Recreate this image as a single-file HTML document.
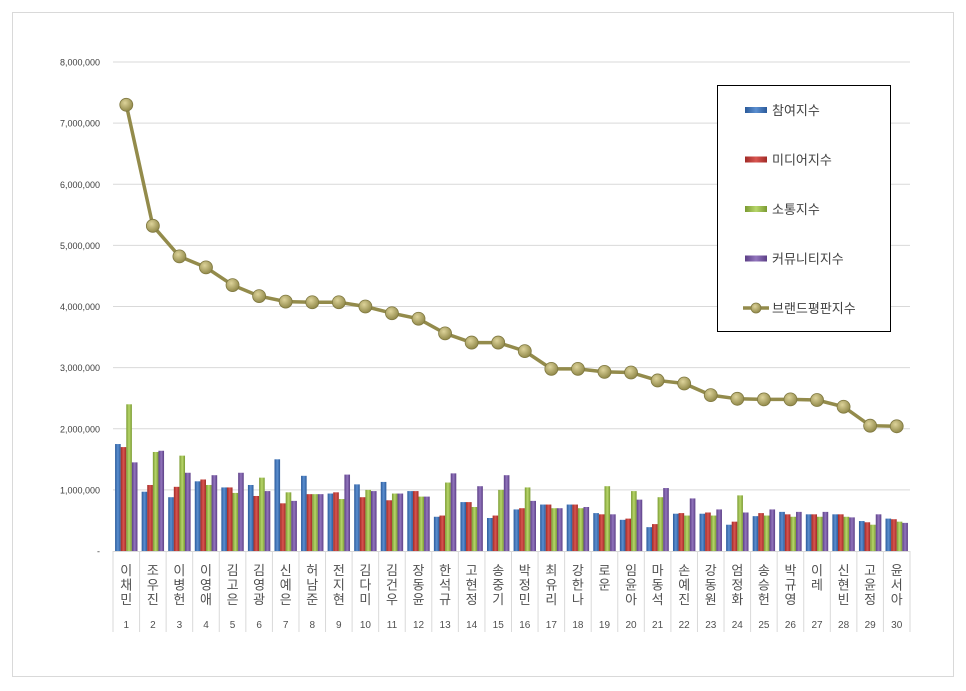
<!DOCTYPE html>
<html><head><meta charset="utf-8">
<style>
html,body{margin:0;padding:0;background:#fff;}
svg{display:block;font-family:"Liberation Sans","Noto Sans CJK KR",sans-serif;}
</style></head>
<body>
<svg id="chart" width="966" height="691" viewBox="0 0 966 691" xmlns="http://www.w3.org/2000/svg">
<defs>
<linearGradient id="gB" x1="0" x2="1"><stop offset="0" stop-color="#2b5a9a"/><stop offset=".5" stop-color="#5b8fd0"/><stop offset="1" stop-color="#2b5a9a"/></linearGradient>
<linearGradient id="gR" x1="0" x2="1"><stop offset="0" stop-color="#a02a26"/><stop offset=".5" stop-color="#d85550"/><stop offset="1" stop-color="#a02a26"/></linearGradient>
<linearGradient id="gG" x1="0" x2="1"><stop offset="0" stop-color="#7a9a32"/><stop offset=".5" stop-color="#b7d66a"/><stop offset="1" stop-color="#7a9a32"/></linearGradient>
<linearGradient id="gP" x1="0" x2="1"><stop offset="0" stop-color="#5c3f86"/><stop offset=".5" stop-color="#9275bd"/><stop offset="1" stop-color="#5c3f86"/></linearGradient>
<radialGradient id="gM" cx=".4" cy=".35" r=".7"><stop offset="0" stop-color="#ddd39a"/><stop offset="1" stop-color="#8c8444"/></radialGradient>
</defs>
<rect x="12.5" y="12.5" width="941" height="664" fill="#fff" stroke="#d9d9d9"/>
<g id="grid"></g><g id="bars"></g><g id="line"></g><g id="xaxis"></g>
<g>
<rect x="717.5" y="85.5" width="173" height="246" fill="#fff" stroke="#000"/>
<g id="legend"></g>
</g>
</svg>
<script>
const categories=["이채민","조우진","이병헌","이영애","김고은","김영광","신예은","허남준","전지현","김다미","김건우","장동윤","한석규","고현정","송중기","박정민","최유리","강한나","로운","임윤아","마동석","손예진","강동원","엄정화","송승헌","박규영","이레","신현빈","고윤정","윤서아"];
const participation=[1750000,970000,880000,1140000,1040000,1080000,1500000,1230000,940000,1090000,1130000,980000,560000,800000,540000,680000,760000,760000,620000,510000,390000,610000,610000,430000,570000,640000,600000,600000,490000,530000];
const media=[1700000,1080000,1050000,1170000,1040000,900000,780000,930000,960000,880000,830000,980000,580000,800000,580000,700000,760000,760000,600000,530000,440000,620000,630000,480000,620000,600000,600000,600000,470000,520000];
const communication=[2400000,1620000,1560000,1080000,950000,1200000,960000,930000,850000,1000000,940000,890000,1120000,720000,1000000,1040000,700000,700000,1060000,980000,880000,580000,580000,910000,580000,560000,560000,560000,430000,480000];
const community=[1450000,1640000,1280000,1240000,1280000,980000,820000,930000,1250000,980000,940000,890000,1270000,1060000,1240000,820000,700000,720000,600000,840000,1030000,860000,680000,630000,680000,640000,640000,550000,600000,460000];
const brand=[7300000,5320000,4820000,4640000,4350000,4170000,4080000,4070000,4070000,4000000,3890000,3800000,3560000,3410000,3410000,3270000,2980000,2980000,2930000,2920000,2790000,2740000,2550000,2490000,2480000,2480000,2470000,2360000,2050000,2040000];
const yTicks=[0,1000000,2000000,3000000,4000000,5000000,6000000,7000000,8000000];
const seriesNames=["참여지수","미디어지수","소통지수","커뮤니티지수","브랜드평판지수"];

const NS="http://www.w3.org/2000/svg";
const x0=113,x1=910,y0=551,yTop=62,yMax=8000000;
const bw=(x1-x0)/categories.length;
function yS(v){return y0-(v/yMax)*(y0-yTop);}
function xC(i){return x0+bw*(i+0.5);}
function mk(tag,attrs,parent){const e=document.createElementNS(NS,tag);for(const k in attrs)e.setAttribute(k,attrs[k]);parent.appendChild(e);return e;}
const grid=document.getElementById('grid');
yTicks.forEach(t=>{
  const y=yS(t);
  if(t>0){const l=mk('line',{x1:x0,x2:x1,y1:y,y2:y,stroke:'#d9d9d9','stroke-width':1},grid);
  
  }
  const tx=mk('text',{x:100,y:y+3.5,'text-anchor':'end','font-size':9,fill:'#404040'},grid);
  tx.textContent=t===0?'-':t.toLocaleString('en-US');
  
  
});
const bars=document.getElementById('bars');
const series=[participation,media,communication,community];
const fills=['url(#gB)','url(#gR)','url(#gG)','url(#gP)'];
const names=['bar-participation','bar-media','bar-communication','bar-community'];
const sw=5.6;
categories.forEach((c,i)=>{
  series.forEach((s,k)=>{
    const x=xC(i)-2*sw+k*sw;
    const r=mk('rect',{x:x,y:yS(s[i]),width:sw,height:y0-yS(s[i]),fill:fills[k]},bars);
    
    
  });
});
const lg=document.getElementById('line');
const pts=brand.map((v,i)=>xC(i)+','+yS(v)).join(' ');
const pl=mk('polyline',{points:pts,fill:'none',stroke:'#938b4b','stroke-width':3.5},lg);


brand.forEach((v,i)=>{
  const m=mk('circle',{cx:xC(i),cy:yS(v),r:6.5,fill:'url(#gM)',stroke:'#7f7840','stroke-width':0.8},lg);
  
  
});
const xa=document.getElementById('xaxis');
mk('line',{x1:x0,x2:x1,y1:y0+.5,y2:y0+.5,stroke:'#d9d9d9'},xa);
for(let i=0;i<=categories.length;i++){
  const x=x0+bw*i;
  mk('line',{x1:x,x2:x,y1:y0,y2:632,stroke:'#d9d9d9'},xa);
}
categories.forEach((c,i)=>{
  [...c].forEach((ch,j)=>{
    const t=mk('text',{x:xC(i),y:575+j*14.5,'text-anchor':'middle','font-size':13,fill:'#505050'},xa);
    t.textContent=ch;
    
    
  });
  const n=mk('text',{x:xC(i),y:628,'text-anchor':'middle','font-size':10,fill:'#505050'},xa);
  n.textContent=String(i+1);
  
  
});
const leg=document.getElementById('legend');
const lc=['url(#gB)','url(#gR)','url(#gG)','url(#gP)'];
seriesNames.forEach((n,k)=>{
  const y=110+k*49.5;
  if(k<4){mk('rect',{x:745,y:y-3,width:22,height:6,fill:lc[k]},leg);}
  else{mk('line',{x1:743,x2:769,y1:y,y2:y,stroke:'#938b4b','stroke-width':3.5},leg);
       mk('circle',{cx:756,cy:y,r:5,fill:'url(#gM)',stroke:'#7f7840','stroke-width':.8},leg);}
  const t=mk('text',{x:772,y:y+5,'font-size':13,fill:'#404040'},leg);
  t.textContent=n;
  
  
});
</script>
</body></html>
